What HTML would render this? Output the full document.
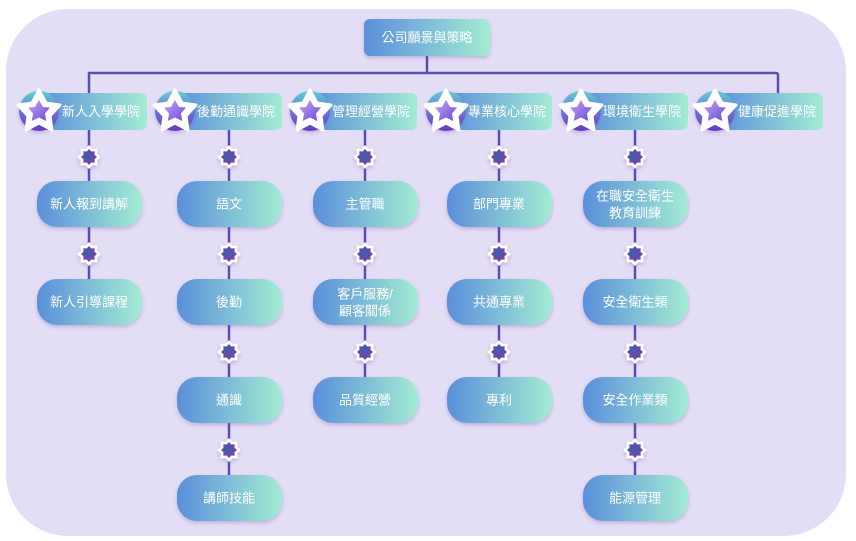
<!DOCTYPE html>
<html><head><meta charset="utf-8"><style>
html,body{margin:0;padding:0;background:#fff;}
svg{display:block}
text{font-family:"Liberation Sans","Noto Sans CJK TC",sans-serif;fill:#fff;font-size:13px;text-anchor:middle;dominant-baseline:central}
</style></head><body>
<svg width="856" height="541" viewBox="0 0 856 541" xmlns="http://www.w3.org/2000/svg">
<defs>
<linearGradient id="g" x1="0" y1="0" x2="1" y2="0"><stop offset="0" stop-color="#5a8fdb"/><stop offset="1" stop-color="#a3ecd3"/></linearGradient>
<linearGradient id="cg" x1="0" y1="0" x2="0" y2="1"><stop offset="0" stop-color="#5fd0d0"/><stop offset="0.5" stop-color="#6a78d8"/><stop offset="1" stop-color="#6a35c0"/></linearGradient>
<linearGradient id="sg" x1="0" y1="0" x2="1" y2="1"><stop offset="0" stop-color="#c5a3f0"/><stop offset="1" stop-color="#6a4bd8"/></linearGradient>
<radialGradient id="bg2" cx="0.4" cy="0.4" r="0.7"><stop offset="0" stop-color="#3a5fb0"/><stop offset="1" stop-color="#8a3aa0"/></radialGradient>
<filter id="sh" x="-30%" y="-30%" width="160%" height="170%"><feDropShadow dx="0" dy="2" stdDeviation="2" flood-color="#7a60b0" flood-opacity="0.35"/></filter>
<g id="hs">
<circle cx="0" cy="0" r="20" fill="url(#cg)" filter="url(#sh)"/>
<polygon points="0,-21 7,-8 21,-6 11,5 13,19 0,12 -13,19 -11,5 -21,-6 -7,-8" fill="#fff" stroke="#fff" stroke-width="3" stroke-linejoin="round"/>
<polygon points="0,-11 4,-4 11,-3.5 6,2.5 7.2,10 0,6.5 -7.2,10 -6,2.5 -11,-3.5 -4,-4" fill="url(#sg)"/>
</g>
<g id="cs" filter="url(#sh)">
<polygon points="0,-12 3.4,-8.2 8.5,-8.5 8.2,-3.4 12,0 8.2,3.4 8.5,8.5 3.4,8.2 0,12 -3.4,8.2 -8.5,8.5 -8.2,3.4 -12,0 -8.2,-3.4 -8.5,-8.5 -3.4,-8.2" fill="#fff"/>
<polygon points="0,-8 2.3,-5.5 5.7,-5.7 5.5,-2.3 8,0 5.5,2.3 5.7,5.7 2.3,5.5 0,8 -2.3,5.5 -5.7,5.7 -5.5,2.3 -8,0 -5.5,-2.3 -5.7,-5.7 -2.3,-5.5" fill="url(#bg2)"/>
</g>
</defs>
<rect x="6" y="9" width="840" height="527" rx="62" fill="#e3def5"/>
<g stroke="#5a4db0" stroke-width="2.5" fill="none">
<line x1="427" y1="54" x2="427" y2="73"/>
<path d="M89,100 V73 H776 Q778,73 778,75 V100"/>
<line x1="89" y1="110" x2="89" y2="302"/>
<line x1="229" y1="110" x2="229" y2="498"/>
<line x1="365" y1="110" x2="365" y2="400"/>
<line x1="499" y1="110" x2="499" y2="400"/>
<line x1="635" y1="110" x2="635" y2="498"/>
</g>
<rect x="364" y="19" width="126" height="37" rx="6" fill="url(#g)" filter="url(#sh)"/>
<text x="427" y="37.5" font-size="15">公司願景與策略</text>
<g>
<rect x="39" y="93" width="108" height="37" rx="6" fill="url(#g)"/><text x="101" y="111.5">新人入學學院</text>
<rect x="175" y="93" width="107" height="37" rx="6" fill="url(#g)"/><text x="236" y="111.5">後勤通識學院</text>
<rect x="310" y="93" width="107" height="37" rx="6" fill="url(#g)"/><text x="371" y="111.5">管理經營學院</text>
<rect x="446" y="93" width="106" height="37" rx="6" fill="url(#g)"/><text x="507" y="111.5">專業核心學院</text>
<rect x="581" y="93" width="107" height="37" rx="6" fill="url(#g)"/><text x="642" y="111.5">環境衛生學院</text>
<rect x="715" y="93" width="108" height="37" rx="6" fill="url(#g)"/><text x="777" y="111.5">健康促進學院</text>
<use href="#hs" x="39" y="111"/><use href="#hs" x="175" y="111"/><use href="#hs" x="310" y="111"/>
<use href="#hs" x="446" y="111"/><use href="#hs" x="581" y="111"/><use href="#hs" x="715" y="111"/>
</g>
<use href="#cs" x="89" y="157"/><use href="#cs" x="89" y="254"/>
<use href="#cs" x="229" y="157"/><use href="#cs" x="229" y="254"/><use href="#cs" x="229" y="352"/><use href="#cs" x="229" y="450"/>
<use href="#cs" x="365" y="157"/><use href="#cs" x="365" y="254"/><use href="#cs" x="365" y="352"/>
<use href="#cs" x="499" y="157"/><use href="#cs" x="499" y="254"/><use href="#cs" x="499" y="352"/>
<use href="#cs" x="635" y="157"/><use href="#cs" x="635" y="254"/><use href="#cs" x="635" y="352"/><use href="#cs" x="635" y="450"/>
<g filter="url(#sh)" fill="url(#g)">
<rect x="37" y="181" width="105" height="46" rx="20"/><rect x="37" y="279" width="105" height="46" rx="20"/>
<rect x="177" y="181" width="105" height="46" rx="20"/><rect x="177" y="279" width="105" height="46" rx="20"/><rect x="177" y="377" width="105" height="46" rx="20"/><rect x="177" y="475" width="105" height="46" rx="20"/>
<rect x="313" y="181" width="105" height="46" rx="20"/><rect x="313" y="279" width="105" height="46" rx="20"/><rect x="313" y="377" width="105" height="46" rx="20"/>
<rect x="447" y="181" width="105" height="46" rx="20"/><rect x="447" y="279" width="105" height="46" rx="20"/><rect x="447" y="377" width="105" height="46" rx="20"/>
<rect x="583" y="181" width="105" height="46" rx="20"/><rect x="583" y="279" width="105" height="46" rx="20"/><rect x="583" y="377" width="105" height="46" rx="20"/><rect x="583" y="475" width="105" height="46" rx="20"/>
</g>
<text x="89" y="204">新人報到講解</text><text x="89" y="302">新人引導課程</text>
<text x="229" y="204">語文</text><text x="229" y="302">後勤</text><text x="229" y="400">通識</text><text x="229" y="498">講師技能</text>
<text x="365" y="204">主管職</text><text x="365" y="294">客戶服務/</text><text x="365" y="311">顧客關係</text><text x="365" y="400">品質經營</text>
<text x="499" y="204">部門專業</text><text x="499" y="302">共通專業</text><text x="499" y="400">專利</text>
<text x="635" y="196">在職安全衛生</text><text x="635" y="213">教育訓練</text><text x="635" y="302">安全衛生類</text><text x="635" y="400">安全作業類</text><text x="635" y="498">能源管理</text>
</svg>
</body></html>
